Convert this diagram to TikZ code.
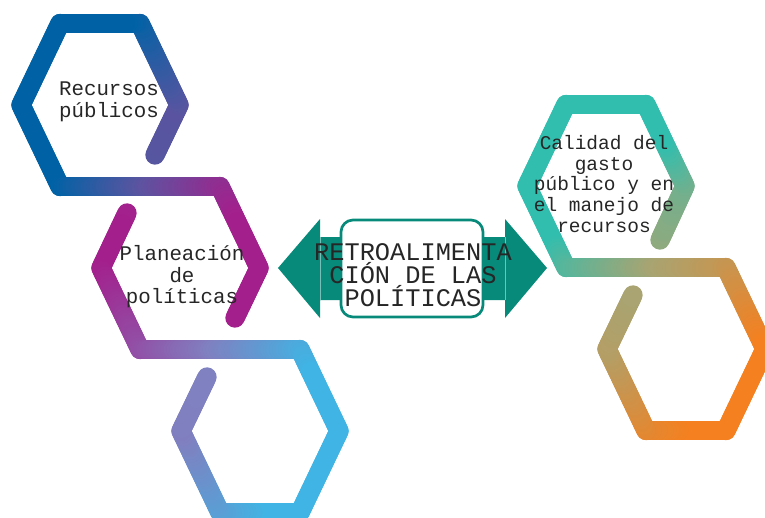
\documentclass[tikz,border=0pt]{standalone}
\usepackage{fontspec}
\newfontfamily\mecano{Liberation Mono}

\definecolor{azul}{RGB}{0,98,165}
\definecolor{violeta}{RGB}{92,84,160}
\definecolor{fucsia}{RGB}{163,32,140}
\definecolor{lavanda}{RGB}{128,128,192}
\definecolor{celeste}{RGB}{64,180,228}
\definecolor{turquesa}{RGB}{50,190,174}
\definecolor{oliva}{RGB}{168,164,114}
\definecolor{naranja}{RGB}{244,128,32}
\definecolor{verdeazul}{RGB}{8,138,122}
\definecolor{tinta}{RGB}{38,38,38}

% цвета градиента: три цвета, три границы, наклон
\newcommand\degradado[7]{\colorlet{gA}{#1}\colorlet{gB}{#2}\colorlet{gC}{#3}\def\glo{#4}\def\gmi{#5}\def\ghi{#6}\def\gky{#7}}

% ломаная с градиентом
\newcommand\anillo[3]{%
    \foreach \x/\y [remember=\x as \px (initially #1), remember=\y as \py (initially #2)] in {#3} {
        \pgfmathsetmacro\largo{veclen(\x-\px,\y-\py)}
        \pgfmathtruncatemacro\pasos{max(1,round(\largo/3))}
        \foreach \i in {1,...,\pasos} {
            \pgfmathsetmacro\xa{\px+(\x-\px)*(\i-1)/\pasos}
            \pgfmathsetmacro\ya{\py+(\y-\py)*(\i-1)/\pasos}
            \pgfmathsetmacro\xb{\px+(\x-\px)*\i/\pasos}
            \pgfmathsetmacro\yb{\py+(\y-\py)*\i/\pasos}
            \pgfmathsetmacro\posi{(\xa+\xb)/2+\gky*(\ya+\yb)/2}
            \pgfmathsetmacro\fa{(\posi-\glo)/(\gmi-\glo)}
            \pgfmathsetmacro\fb{(\posi-\gmi)/(\ghi-\gmi)}
            \pgfmathtruncatemacro\pa{max(0,min(100,100*\fa))}
            \pgfmathtruncatemacro\pb{max(0,min(100,100*\fb))}
            \ifnum\pb>0 \colorlet{gcur}{gC!\pb!gB}\else\colorlet{gcur}{gB!\pa!gA}\fi
            \draw [trazo, gcur] ( \xa, \ya ) -- ( \xb, \yb );
        }
    }%
}

\begin{document}
\begin{tikzpicture}[x=0.75pt, y=-0.75pt,
    trazo/.style={line width=14.5pt, line cap=round, line join=round},
    rotulo/.style={inner sep=0pt, align=center, text=tinta}]
    \useasboundingbox ( 0, 0 ) rectangle ( 765, 518 );

    % левая цепочка
    \degradado{azul}{violeta}{fucsia}{135}{222}{325}{0.4}
    \anillo{155}{155}{179/105, 140/23.5, 60/23.5, 21/105, 60/186.5, 220/186.5, 259/268, 235/318}
    \degradado{fucsia}{lavanda}{celeste}{210}{355}{460}{0.4}
    \anillo{127}{213}{101/268, 140/349.5, 300/349.5, 339/431, 300/512.5, 220/512.5, 181/431, 207/377}

    % правая цепочка
    \degradado{turquesa}{oliva}{naranja}{800}{925}{1110}{1}
    \anillo{660}{240}{685/186, 646/104.5, 566/104.5, 527/186, 566/267.5, 726/267.5, 765/349, 726/430.5, 646/430.5, 607/349, 633/295}

    % стрелка
    \fill [verdeazul] ( 278, 268 ) -- ( 320, 219 ) -- ( 320, 237 ) -- ( 505, 237 ) -- ( 505, 219 ) -- ( 547, 268 )
        -- ( 505, 318 ) -- ( 505, 300 ) -- ( 320, 300 ) -- ( 320, 318 ) -- cycle;
    \draw [verdeazul!55!white, line width=0.6pt] ( 320, 237 ) -- ( 320, 300 );
    \draw [verdeazul!55!white, line width=0.6pt] ( 505, 237 ) -- ( 505, 300 );
    \filldraw [fill=white, draw=verdeazul, line width=2pt, rounded corners=9pt] ( 341, 220 ) rectangle ( 483, 317 );

    % подписи
    \node [rotulo, font=\mecano\fontsize{19}{17.2}\selectfont] (retro) at ( 413, 275 ) {RETROALIMENTA\\CIÓN DE LAS\\POLÍTICAS};
    \node [rotulo, font=\mecano\fontsize{15.6}{16.5}\selectfont] (recursos) at ( 109, 102 ) {Recursos\\públicos};
    \node [rotulo, font=\mecano\fontsize{15.6}{16.2}\selectfont] (planeacion) at ( 182, 277 ) {Planeación\\de\\políticas};
    \node [rotulo, font=\mecano\fontsize{14.6}{15.4}\selectfont] (calidad) at ( 604, 184 ) {Calidad del\\gasto\\público y en\\el manejo de\\recursos};
\end{tikzpicture}
\end{document}
